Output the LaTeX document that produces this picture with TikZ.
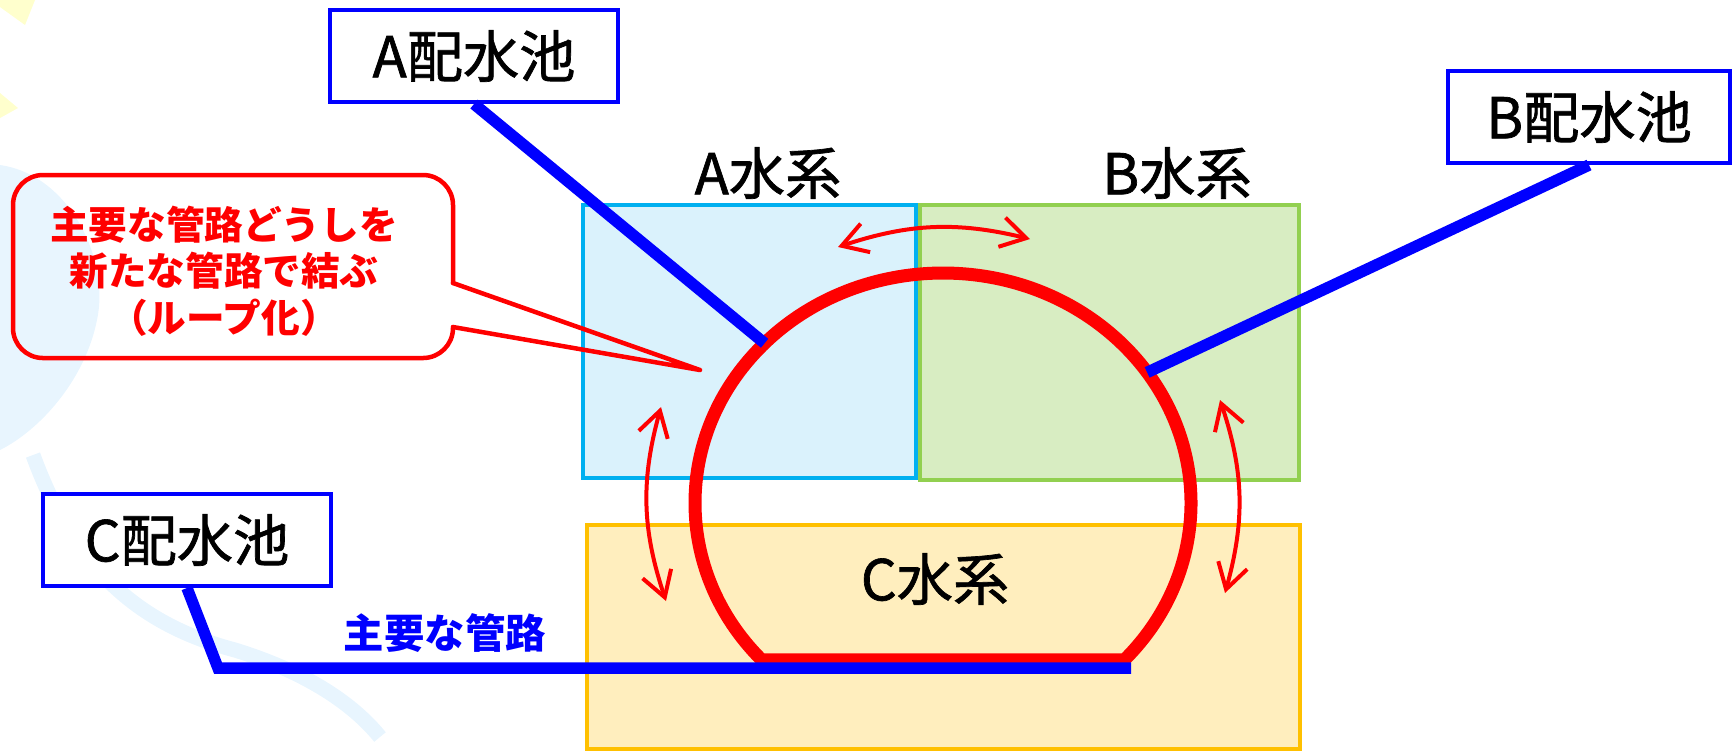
\documentclass[tikz,border=0pt]{standalone}
\usepackage{fontspec}
\usepackage{xcolor}
\usepackage{tikz}
\usetikzlibrary{positioning}
\usetikzlibrary{arrows.meta}

\newfontfamily\jpfont{Noto Sans CJK JP}
\newfontfamily\jpheavy[FakeBold=1.2]{Noto Sans CJK JP}

\definecolor{zoneAfill}{RGB}{218,242,252}
\definecolor{zoneAline}{RGB}{0,176,240}
\definecolor{zoneBfill}{RGB}{216,237,194}
\definecolor{zoneBline}{RGB}{146,208,80}
\definecolor{zoneCfill}{RGB}{255,238,190}
\definecolor{zoneCline}{RGB}{255,192,0}
\definecolor{decoBlue}{RGB}{232,245,254}
\definecolor{decoYellow}{RGB}{255,255,205}

\begin{document}
\begin{tikzpicture}
  [
    tank/.style={draw=blue, fill=white, line width=0.04cm,
      minimum width=2.88cm, minimum height=0.92cm, inner sep=0pt,
      font=\jpheavy\fontsize{16}{18}\selectfont},
    zone/.style={line width=0.04cm, inner sep=0pt},
    zonelabel/.style={font=\jpheavy\fontsize{16}{18}\selectfont},
    pipe/.style={draw=blue, line width=0.115cm},
    ring/.style={draw=red, line width=0.13cm},
    flow/.style={draw=red, line width=0.04cm, line cap=round,
      {Straight Barb[length=0.25cm, width=0.3cm]}-{Straight Barb[length=0.25cm, width=0.3cm]}},
    note/.style={draw=red, line width=0.045cm, line join=round, line cap=round}
  ]

  \useasboundingbox (0,0) rectangle (17.33,-7.52);

  % faint background
  \fill[decoYellow] (0,0) -- (0.35,0) -- (0.25,-0.25) -- (0,-0.07) -- cycle;
  \fill[decoYellow] (0,-0.93) -- (0.18,-1.08) -- (0,-1.18) -- cycle;
  \fill[decoBlue] (0,-1.65) .. controls (0.7,-1.75) and (1.1,-2.6) .. (0.97,-3.2)
        .. controls (0.85,-3.8) and (0.4,-4.3) .. (0,-4.5) -- cycle;
  \draw[decoBlue, line width=0.15cm] (0.33,-4.55) .. controls (0.75,-5.7) and (1.4,-6.25) .. (2.35,-6.5)
        .. controls (3.0,-6.7) and (3.5,-7.0) .. (3.8,-7.37);

  % zones
  \node (zoneA) at ( 7.495,-3.415) [zone, draw=zoneAline, fill=zoneAfill,
        minimum width=3.33cm, minimum height=2.73cm] {};
  \node (zoneB) at (11.095,-3.425) [zone, draw=zoneBline, fill=zoneBfill,
        minimum width=3.79cm, minimum height=2.75cm] {};
  \node (zoneC) at ( 9.435,-6.370) [zone, draw=zoneCline, fill=zoneCfill,
        minimum width=7.13cm, minimum height=2.24cm] {};

  \node (labA) at ( 7.68,-1.73) [zonelabel] {A水系};
  \node (labB) at (11.77,-1.73) [zonelabel] {B水系};
  \node (labC) at ( 9.35,-5.79) [zonelabel] {C水系};

  % new loop
  \coordinate (loop) at (9.43,-5.03);
  \draw[ring] (loop) ++(-43:2.48 and 2.30)
        arc[start angle=-43, end angle=223, x radius=2.48, y radius=2.30] -- cycle;
  \path (loop) ++(136:2.48 and 2.30) coordinate (jA);
  \path (loop) ++(34.6:2.48 and 2.30) coordinate (jB);

  % tanks and main pipes
  \node (tankA) at ( 4.74,-0.56) [tank] {A配水池};
  \node (tankB) at (15.89,-1.17) [tank, minimum width=2.82cm] {B配水池};
  \node (tankC) at ( 1.87,-5.40) [tank] {C配水池};

  \coordinate (bendC) at (2.18,-6.68);
  \coordinate (endC)  at (11.31,-6.68);

  \draw[pipe] (tankA.south) -- (jA);
  \draw[pipe] (tankB.south) -- (jB);
  \draw[pipe] (tankC.south) -- (bendC) -- (endC);

  \node (pipeText) at (4.45,-6.33) [text=blue,
        font=\jpfont\bfseries\fontsize{11.5}{13}\selectfont] {主要な管路};

  % exchange between zones
  \coordinate (ab1) at ( 8.38,-2.47);
  \coordinate (ab2) at (10.30,-2.39);
  \coordinate (ac1) at ( 6.61,-4.07);
  \coordinate (ac2) at ( 6.66,-6.01);
  \coordinate (bc1) at (12.20,-4.00);
  \coordinate (bc2) at (12.25,-5.93);

  \draw[flow] (ab1) to[bend left=16]  (ab2);
  \draw[flow] (ac1) to[bend right=17] (ac2);
  \draw[flow] (bc1) to[bend left=17]  (bc2);

  % callout
  \coordinate (tip) at (7.00,-3.70);
  \draw[note, rounded corners=0.3cm] (4.53,-2.83) -- (4.53,-1.75) -- (0.13,-1.75)
        -- (0.13,-3.58) -- (4.53,-3.58) -- (4.53,-3.27);
  \draw[note] (4.53,-2.83) -- (tip) -- (4.53,-3.27);
  \node (noteText) at (2.24,-2.71) [align=center, text=red,
        font=\jpfont\bfseries\fontsize{11}{13.2}\selectfont]
        {主要な管路どうしを\\新たな管路で結ぶ\\（ループ化）};
\end{tikzpicture}
\end{document}
